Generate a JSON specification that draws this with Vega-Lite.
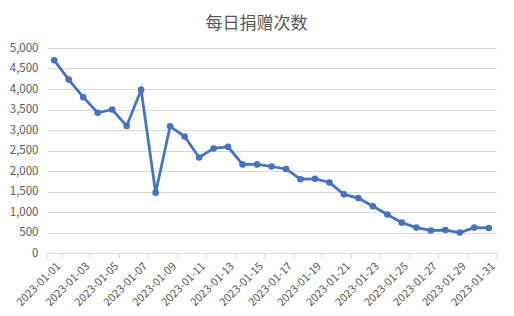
{
  "$schema": "https://vega.github.io/schema/vega-lite/v6.json",
  "width": 449,
  "height": 205,
  "autosize": {"type": "none"},
  "padding": {"left": 47, "top": 48, "right": 18, "bottom": 63},
  "background": "white",
  "title": {
    "text": "每日捐赠次数",
    "font": "Noto Sans CJK SC",
    "fontSize": 17,
    "fontWeight": "normal",
    "color": "#595959",
    "anchor": "middle",
    "dx": -15,
    "offset": 9
  },
  "config": {
    "view": {"stroke": null},
    "font": "Noto Sans CJK SC"
  },
  "data": {
    "values": [
      {"date": "2023-01-01", "count": 4700},
      {"date": "2023-01-02", "count": 4230},
      {"date": "2023-01-03", "count": 3800},
      {"date": "2023-01-04", "count": 3420},
      {"date": "2023-01-05", "count": 3500},
      {"date": "2023-01-06", "count": 3100},
      {"date": "2023-01-07", "count": 3980},
      {"date": "2023-01-08", "count": 1470},
      {"date": "2023-01-09", "count": 3090},
      {"date": "2023-01-10", "count": 2840},
      {"date": "2023-01-11", "count": 2330},
      {"date": "2023-01-12", "count": 2550},
      {"date": "2023-01-13", "count": 2590},
      {"date": "2023-01-14", "count": 2160},
      {"date": "2023-01-15", "count": 2160},
      {"date": "2023-01-16", "count": 2110},
      {"date": "2023-01-17", "count": 2050},
      {"date": "2023-01-18", "count": 1800},
      {"date": "2023-01-19", "count": 1810},
      {"date": "2023-01-20", "count": 1720},
      {"date": "2023-01-21", "count": 1430},
      {"date": "2023-01-22", "count": 1340},
      {"date": "2023-01-23", "count": 1140},
      {"date": "2023-01-24", "count": 940},
      {"date": "2023-01-25", "count": 740},
      {"date": "2023-01-26", "count": 620},
      {"date": "2023-01-27", "count": 550},
      {"date": "2023-01-28", "count": 560},
      {"date": "2023-01-29", "count": 500},
      {"date": "2023-01-30", "count": 620},
      {"date": "2023-01-31", "count": 610}
    ]
  },
  "mark": {
    "type": "line",
    "color": "#4472C4",
    "strokeWidth": 2.75,
    "point": {"filled": true, "size": 44, "color": "#4472C4"}
  },
  "encoding": {
    "x": {
      "field": "date",
      "type": "ordinal",
      "sort": "ascending",
      "scale": {"type": "band", "paddingInner": 0, "paddingOuter": 0},
      "axis": {
        "title": null,
        "values": ["2023-01-01","2023-01-03","2023-01-05","2023-01-07","2023-01-09","2023-01-11","2023-01-13","2023-01-15","2023-01-17","2023-01-19","2023-01-21","2023-01-23","2023-01-25","2023-01-27","2023-01-29","2023-01-31"],
        "tickBand": "extent",
        "labelAngle": -45,
        "labelAlign": "right",
        "labelBaseline": "top",
        "labelFontSize": 11,
        "labelColor": "#595959",
        "labelPadding": 2,
        "domainColor": "#d9d9d9",
        "tickColor": "#d9d9d9",
        "tickSize": 5,
        "grid": false
      }
    },
    "y": {
      "field": "count",
      "type": "quantitative",
      "scale": {"domain": [0, 5000], "nice": false},
      "axis": {
        "title": null,
        "values": [0, 500, 1000, 1500, 2000, 2500, 3000, 3500, 4000, 4500, 5000],
        "format": ",d",
        "domain": false,
        "ticks": false,
        "labelFontSize": 11.5,
        "labelColor": "#595959",
        "labelPadding": 9,
        "gridColor": "#d9d9d9",
        "gridWidth": 1
      }
    }
  }
}
